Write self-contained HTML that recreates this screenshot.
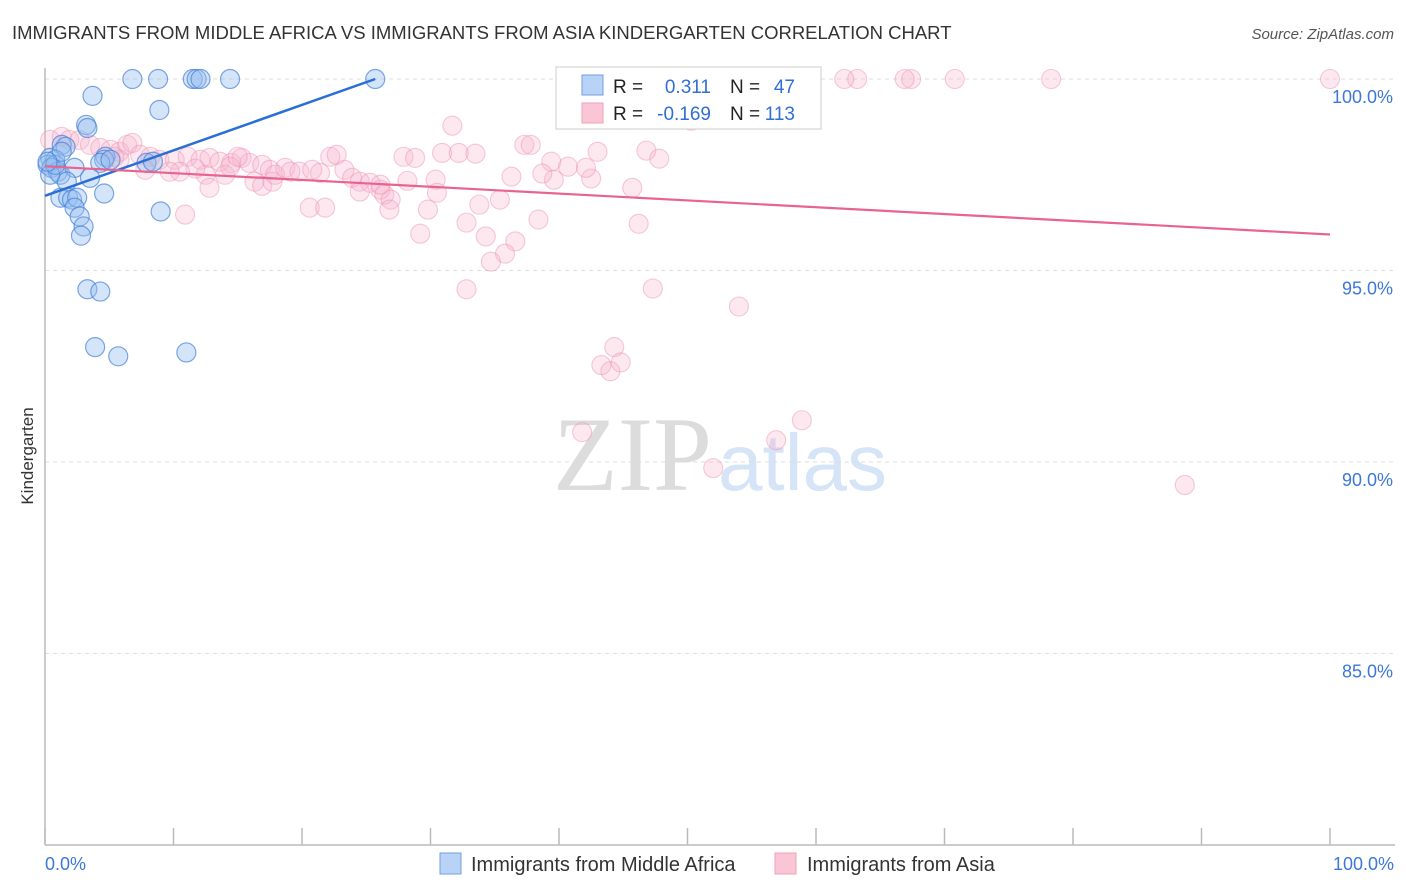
<!DOCTYPE html>
<html><head><meta charset="utf-8">
<style>
body{margin:0;background:#fff;font-family:"Liberation Sans",sans-serif;}
#wrap{position:relative;width:1406px;height:892px;overflow:hidden;}
</style></head>
<body>
<div id="wrap">
<svg id="chart" width="1406" height="892" xmlns="http://www.w3.org/2000/svg" style="position:absolute;left:0;top:0">
<text x="12" y="39" font-size="18.5" fill="#333">IMMIGRANTS FROM MIDDLE AFRICA VS IMMIGRANTS FROM ASIA KINDERGARTEN CORRELATION CHART</text>
<text x="1394" y="39" font-size="15" fill="#555" font-style="italic" text-anchor="end">Source: ZipAtlas.com</text>
<text x="33" y="456" font-size="17" fill="#333" text-anchor="middle" transform="rotate(-90 33 456)">Kindergarten</text>
<g>
<text x="553" y="490" font-size="106" font-family="Liberation Serif, serif" fill="#dcdcdc">ZIP</text>
<text x="718" y="490" font-size="80" fill="#d5e4f6">atlas</text>
</g>
<g id="grid"></g>
<g id="axes"></g>
<g id="pinkPts"></g>
<g id="bluePts"></g>
<g id="trends"></g>
<g>
<rect x="556" y="67" width="265" height="62" fill="#fff" stroke="#ccc" stroke-width="1"/>
<rect x="582" y="75" width="21" height="20" fill="#b8d3f5" stroke="#6f9fe0"/>
<rect x="582" y="103" width="21" height="20" fill="#fac6d6" stroke="#f0a0bb"/>
<text x="613" y="93" font-size="19" fill="#222">R =</text>
<text x="711" y="93" font-size="19" fill="#2f6fd6" text-anchor="end">0.311</text>
<text x="730" y="93" font-size="19" fill="#222">N =</text>
<text x="795" y="93" font-size="19" fill="#2f6fd6" text-anchor="end">47</text>
<text x="613" y="120" font-size="19" fill="#222">R =</text>
<text x="711" y="120" font-size="19" fill="#2f6fd6" text-anchor="end">-0.169</text>
<text x="730" y="120" font-size="19" fill="#222">N =</text>
<text x="795" y="120" font-size="19" fill="#2f6fd6" text-anchor="end">113</text>
</g>
<g>
<rect x="440" y="853" width="21" height="21" fill="#b8d3f5" stroke="#6f9fe0"/>
<text x="471" y="871" font-size="20" fill="#333">Immigrants from Middle Africa</text>
<rect x="775" y="853" width="21" height="21" fill="#fac6d6" stroke="#f0a0bb"/>
<text x="807" y="871" font-size="20" fill="#333">Immigrants from Asia</text>
</g>
</svg>
</div>
<script>
const yTicks=[100,95,90,85];
const yTickLabels=["100.0%","95.0%","90.0%","85.0%"];
const xTickLabels=["0.0%","100.0%"];
const blueX=[6.8,8.8,11.5,11.8,12.1,14.4,25.7,3.7,8.9,3.2,3.3,1.3,1.6,0.4,0.8,0.2,0.5,1.0,1.2,4.7,4.6,4.3,7.9,8.4,2.3,3.5,1.7,4.6,1.2,1.8,2.1,2.5,2.3,2.7,3.0,2.8,9.0,3.3,4.3,3.9,5.7,11.0,0.4,0.8,1.3,0.2,5.1];
const blueY=[100,100,100,100,100,100,100,99.56,99.19,98.80,98.72,98.28,98.23,97.94,97.89,97.76,97.68,97.58,97.50,97.97,97.89,97.81,97.81,97.84,97.68,97.42,97.32,97.01,96.90,96.90,96.85,96.90,96.64,96.41,96.15,95.91,96.54,94.51,94.45,93.0,92.76,92.86,97.5,97.76,98.1,97.84,97.89];
const pinkX=[100,78.3,70.8,67.4,66.9,63.2,62.2,53.2,48.2,52.4,50.3,46.8,47.8,43.0,42.5,45.7,46.2,47.3,54.0,44.3,43.3,44.0,44.8,41.8,56.9,58.9,52.0,88.7,
31.7,27.9,28.8,30.9,32.2,33.5,37.3,37.8,39.4,40.7,42.1,39.6,38.7,36.3,30.4,28.2,30.5,29.8,26.1,26.4,26.9,33.8,35.4,38.4,29.2,34.3,36.6,35.8,34.7,32.8,32.8,
0.4,1.3,1.9,2.7,3.5,4.3,5.1,5.8,6.4,6.8,7.4,8.2,8.9,10.1,11.1,12.1,12.8,13.6,14.5,15.3,15.9,16.9,17.5,18.7,19.8,20.8,21.4,22.2,22.7,23.3,23.9,24.5,25.3,26.1,16.3,16.9,17.7,14.0,14.4,12.5,12.8,11.7,10.5,9.7,7.8,20.6,21.8,10.9,17.9,24.5,26.8,15.0,19.1,5.8,5.4];
const pinkY=[100,100,100,100,100,100,100,100,100,99.56,98.91,98.13,97.92,98.10,97.40,97.16,96.22,94.53,94.06,93.0,92.53,92.37,92.60,90.78,90.57,91.09,89.84,89.40,
98.78,97.97,97.94,98.07,98.07,98.05,98.28,98.28,97.84,97.71,97.68,97.37,97.53,97.45,97.37,97.34,97.03,96.59,97.11,96.98,96.85,96.72,96.85,96.33,95.96,95.89,95.76,95.44,95.23,94.51,96.25,
98.41,98.49,98.41,98.41,98.28,98.20,98.15,98.10,98.28,98.33,98.02,97.97,97.89,97.89,97.97,97.89,97.94,97.84,97.81,97.94,97.81,97.76,97.63,97.68,97.58,97.63,97.55,97.97,98.02,97.63,97.42,97.32,97.29,97.24,97.32,97.21,97.32,97.50,97.71,97.50,97.16,97.66,97.58,97.58,97.63,96.64,96.64,96.46,97.50,97.06,96.59,97.97,97.58,97.89,97.97];
const blueTrend=[[0,96.95],[25.7,100]];
const pinkTrend=[[0,97.72],[100,95.94]];

const NS="http://www.w3.org/2000/svg";
const X0=45,X1=1330,YTOP=79,YBOT=845;
const xs=v=>X0+(v/100)*(X1-X0);
const ys=v=>YTOP+(100-v)/20*(YBOT-YTOP);
function mk(tag,attrs,parent){const e=document.createElementNS(NS,tag);for(const k in attrs)e.setAttribute(k,attrs[k]);parent.appendChild(e);return e;}
const grid=document.getElementById('grid'),axes=document.getElementById('axes');
yTicks.forEach((t,i)=>{
  const l=mk('line',{x1:X0,x2:1395,y1:ys(t),y2:ys(t),stroke:'#ddd','stroke-dasharray':'4,4'},grid);
  
  
  const tx=mk('text',{x:1393,y:ys(t)+24,'font-size':18,fill:'#3c78d8','text-anchor':'end'},axes);
  tx.textContent=yTickLabels[i];
  
  
});
const ya=mk('line',{x1:X0,x2:X0,y1:68,y2:YBOT,stroke:'#bbb','stroke-width':1.5},axes);


const xa=mk('line',{x1:X0,x2:1395,y1:YBOT,y2:YBOT,stroke:'#bbb','stroke-width':1.5},axes);


for(let i=0;i<=10;i++){
  const t=mk('line',{x1:xs(i*10),x2:xs(i*10),y1:828,y2:YBOT,stroke:'#bbb','stroke-width':1.5},axes);
  
  
}
const xl0=mk('text',{x:45,y:870,'font-size':18,fill:'#3c78d8'},axes);xl0.textContent=xTickLabels[0];


const xl1=mk('text',{x:1394,y:870,'font-size':18,fill:'#3c78d8','text-anchor':'end'},axes);xl1.textContent=xTickLabels[1];


const pg=document.getElementById('pinkPts');
pinkX.forEach((v,i)=>{
  const c=mk('circle',{cx:xs(v),cy:ys(pinkY[i]),r:9.5,fill:'rgba(248,180,204,0.3)',stroke:'rgba(236,150,180,0.5)','stroke-width':1.1},pg);
  
  
});
const bg=document.getElementById('bluePts');
blueX.forEach((v,i)=>{
  const c=mk('circle',{cx:xs(v),cy:ys(blueY[i]),r:9.5,fill:'rgba(150,190,240,0.4)',stroke:'rgba(70,130,215,0.7)','stroke-width':1.2},bg);
  
  
});
const tg=document.getElementById('trends');
const bt=mk('line',{x1:xs(blueTrend[0][0]),y1:ys(blueTrend[0][1]),x2:xs(blueTrend[1][0]),y2:ys(blueTrend[1][1]),stroke:'#2a6fd6','stroke-width':2.5},tg);


const pt=mk('line',{x1:xs(pinkTrend[0][0]),y1:ys(pinkTrend[0][1]),x2:xs(pinkTrend[1][0]),y2:ys(pinkTrend[1][1]),stroke:'#e8648f','stroke-width':2.2},tg);


</script>
</body></html>
